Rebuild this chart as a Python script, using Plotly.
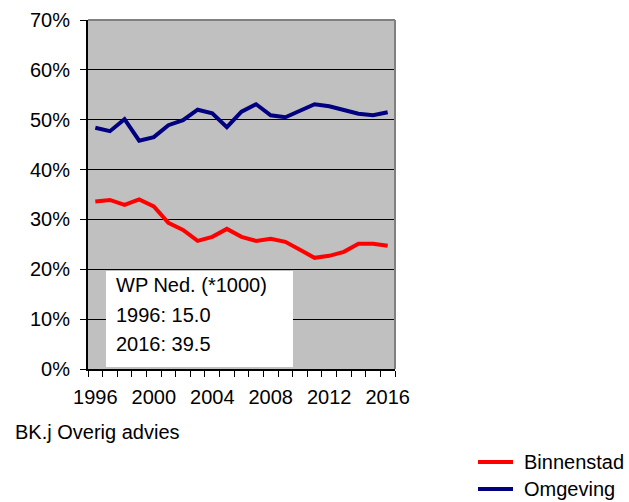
import plotly.graph_objects as go

years = list(range(1996, 2017))
binnenstad = [33.6, 33.9, 32.9, 34.0, 32.6, 29.3, 27.9, 25.7, 26.5, 28.1, 26.5,
              25.7, 26.1, 25.5, 23.9, 22.3, 22.7, 23.5, 25.1, 25.1, 24.7]
omgeving = [48.4, 47.7, 50.1, 45.8, 46.5, 48.9, 49.9, 52.0, 51.3, 48.5, 51.6,
            53.1, 50.9, 50.5, 51.8, 53.1, 52.7, 51.9, 51.2, 50.9, 51.5]
series_names = ["Binnenstad", "Omgeving"]
series_colors = ["#FF0000", "#000080"]
x_tick_labels = [1996, 2000, 2004, 2008, 2012, 2016]
y_ticks = [0, 10, 20, 30, 40, 50, 60, 70]
box_lines = ["WP Ned. (*1000)", "1996: 15.0", "2016: 39.5"]
footer = "BK.j Overig advies"

FONT = "Liberation Sans, Arial, sans-serif"
W, H = 629, 502
L, R, T, B = 88, 234, 20, 133
PW, PH = W - L - R, H - T - B


def px_x(p):
    return (p - L) / PW


def px_y(p):
    return (H - B - p) / PH


fig = go.Figure()
for name, vals, col in zip(series_names, [binnenstad, omgeving], series_colors):
    fig.add_trace(go.Scatter(x=years, y=vals, mode="lines", name=name,
                             line=dict(color=col, width=4), showlegend=False))

# white text box
fig.add_shape(type="rect", xref="x", yref="y", x0=1996.73, x1=2009.52, y0=0.4, y1=19.65,
              fillcolor="white", line=dict(width=0), layer="above")
box_y = [16.9, 10.9, 5.0]
for txt, yy in zip(box_lines, box_y):
    fig.add_annotation(x=1997.25, y=yy, xref="x", yref="y", text=txt, showarrow=False,
                       xanchor="left", yanchor="middle", font=dict(size=20, color="black", family=FONT))

# border top/right
fig.add_shape(type="line", xref="paper", yref="paper", x0=0, x1=1, y0=1, y1=1,
              line=dict(color="#808080", width=2), layer="above")
fig.add_shape(type="line", xref="paper", yref="paper", x0=1, x1=1, y0=0, y1=1,
              line=dict(color="#808080", width=2), layer="above")

fig.add_annotation(x=px_x(13), y=px_y(432), xref="paper", yref="paper", text=footer, showarrow=False,
                   xanchor="left", yanchor="middle", font=dict(size=20, color="black", family=FONT))

# manual legend
leg_y = [462, 489]
for name, col, ly in zip(series_names, series_colors, leg_y):
    fig.add_shape(type="line", xref="paper", yref="paper", x0=px_x(478), x1=px_x(513),
                  y0=px_y(ly), y1=px_y(ly), line=dict(color=col, width=4))
    fig.add_annotation(x=px_x(522), y=px_y(ly), xref="paper", yref="paper", text=name,
                       showarrow=False, xanchor="left", yanchor="middle",
                       font=dict(size=20, color="black", family=FONT))

fig.update_layout(
    width=W, height=H,
    margin=dict(l=L, r=R, t=T, b=B, autoexpand=False),
    paper_bgcolor="white", plot_bgcolor="#C0C0C0",
    font=dict(family=FONT, size=20, color="black"),
    showlegend=False,
    xaxis=dict(range=[1995.5, 2016.5], tickvals=x_tick_labels, ticktext=[str(v) for v in x_tick_labels],
               ticks="", showgrid=False, zeroline=False, showline=True, linecolor="black", linewidth=2,
               minor=dict(tick0=1995.5, dtick=1, ticks="outside", ticklen=6, tickcolor="black",
                          tickwidth=1, showgrid=False),
               ticklabelstandoff=9, automargin=False,
               tickfont=dict(size=20), fixedrange=True),
    yaxis=dict(range=[0, 70], tickvals=y_ticks, ticktext=[f"{v}%" for v in y_ticks],
               ticks="outside", ticklen=6, tickcolor="black", showgrid=True, gridcolor="black",
               gridwidth=1, zeroline=False, showline=True, linecolor="black", linewidth=2,
               ticklabelstandoff=6, automargin=False,
               tickfont=dict(size=20), fixedrange=True),
)

fig.write_html("out.html", config={"displayModeBar": False},
               post_script="document.body.style.margin='0';document.body.style.padding='0';")
